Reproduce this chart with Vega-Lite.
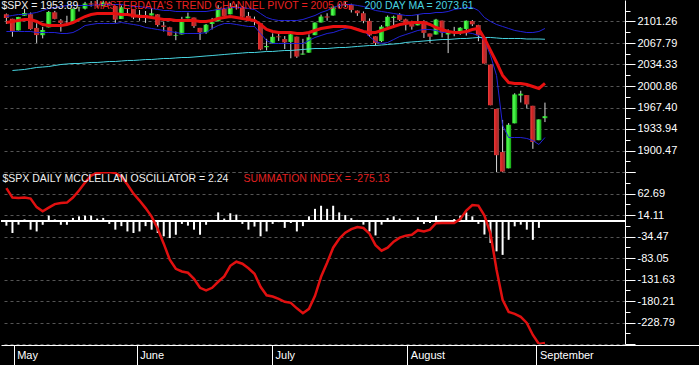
{
"$schema":"https://vega.github.io/schema/vega-lite/v6.json",
"background":"#000000",
"padding":0,
"spacing":0,
"bounds":"flush",
"datasets":{"days":[
{"i":-2,"date":"2015-04-29","o":2112.49,"h":2113.65,"l":2097.41,"c":2106.85,"pivot":2099.7,"upper":2109.0,"lower":2085.7,"ma":null,"osc":-10,"summation":75.0},
{"i":-1,"date":"2015-04-30","o":2105.52,"h":2105.52,"l":2077.59,"c":2085.51,"pivot":2101.3,"upper":2110.6,"lower":2085.7,"ma":2025.0,"osc":-26.5,"summation":53.5},
{"i":0,"date":"2015-05-01","o":2087.38,"h":2108.41,"l":2087.38,"c":2108.29,"pivot":2102.8,"upper":2112.2,"lower":2085.7,"ma":2025.8,"osc":-7.7,"summation":52.8},
{"i":1,"date":"2015-05-04","o":2110.23,"h":2120.95,"l":2110.23,"c":2114.49,"pivot":2104.4,"upper":2112.2,"lower":2085.7,"ma":2026.6,"osc":4,"summation":53.5},
{"i":2,"date":"2015-05-05","o":2112.63,"h":2115.24,"l":2088.46,"c":2089.46,"pivot":2104.4,"upper":2113.7,"lower":2085.7,"ma":2028.1,"osc":-19,"summation":51.2},
{"i":3,"date":"2015-05-06","o":2091.26,"h":2098.42,"l":2067.93,"c":2080.15,"pivot":2101.3,"upper":2115.3,"lower":2084.1,"ma":2029.7,"osc":-23,"summation":31.9},
{"i":4,"date":"2015-05-07","o":2079.96,"h":2092.90,"l":2074.99,"c":2088.00,"pivot":2096.6,"upper":2118.4,"lower":2084.1,"ma":2030.4,"osc":-8,"summation":22.4},
{"i":5,"date":"2015-05-08","o":2092.13,"h":2117.66,"l":2092.13,"c":2116.10,"pivot":2095.0,"upper":2121.5,"lower":2084.1,"ma":2031.2,"osc":12.7,"summation":30.8},
{"i":6,"date":"2015-05-11","o":2115.56,"h":2117.69,"l":2104.58,"c":2105.33,"pivot":2095.0,"upper":2123.1,"lower":2084.1,"ma":2032.8,"osc":4,"summation":38.7},
{"i":7,"date":"2015-05-12","o":2102.87,"h":2105.06,"l":2085.57,"c":2099.12,"pivot":2095.0,"upper":2124.6,"lower":2082.6,"ma":2034.3,"osc":-8,"summation":41.4},
{"i":8,"date":"2015-05-13","o":2099.62,"h":2110.19,"l":2096.04,"c":2098.48,"pivot":2096.6,"upper":2126.2,"lower":2082.6,"ma":2035.1,"osc":-8,"summation":42.1},
{"i":9,"date":"2015-05-14","o":2100.43,"h":2121.45,"l":2100.43,"c":2121.10,"pivot":2099.7,"upper":2126.2,"lower":2084.1,"ma":2035.9,"osc":7.5,"summation":53.5},
{"i":10,"date":"2015-05-15","o":2122.07,"h":2123.89,"l":2116.81,"c":2122.73,"pivot":2104.4,"upper":2126.2,"lower":2088.8,"ma":2035.9,"osc":11,"summation":69.3},
{"i":11,"date":"2015-05-18","o":2121.30,"h":2131.78,"l":2120.01,"c":2129.20,"pivot":2109.0,"upper":2126.2,"lower":2095.0,"ma":2036.7,"osc":12.7,"summation":87.4},
{"i":12,"date":"2015-05-19","o":2129.45,"h":2133.02,"l":2124.50,"c":2127.83,"pivot":2112.2,"upper":2126.2,"lower":2096.6,"ma":2037.5,"osc":12.7,"summation":103.3},
{"i":13,"date":"2015-05-20","o":2127.79,"h":2134.72,"l":2122.59,"c":2125.85,"pivot":2113.7,"upper":2127.7,"lower":2098.1,"ma":2037.5,"osc":6,"summation":108.9},
{"i":14,"date":"2015-05-21","o":2125.55,"h":2133.63,"l":2124.47,"c":2130.82,"pivot":2113.7,"upper":2127.7,"lower":2098.1,"ma":2038.2,"osc":7.5,"summation":110.8},
{"i":15,"date":"2015-05-22","o":2130.36,"h":2132.15,"l":2126.06,"c":2126.06,"pivot":2113.7,"upper":2127.7,"lower":2098.1,"ma":2039.0,"osc":-6,"summation":111.27},
{"i":16,"date":"2015-05-26","o":2125.34,"h":2125.34,"l":2099.18,"c":2104.20,"pivot":2113.7,"upper":2127.7,"lower":2098.1,"ma":2039.0,"osc":-19,"summation":108.9},
{"i":17,"date":"2015-05-27","o":2105.13,"h":2126.22,"l":2105.13,"c":2123.48,"pivot":2112.2,"upper":2127.7,"lower":2099.7,"ma":2039.8,"osc":-11,"summation":101.0},
{"i":18,"date":"2015-05-28","o":2122.27,"h":2122.27,"l":2112.86,"c":2120.79,"pivot":2112.2,"upper":2126.2,"lower":2098.1,"ma":2040.6,"osc":-23,"summation":82.9},
{"i":19,"date":"2015-05-29","o":2120.66,"h":2120.66,"l":2104.89,"c":2107.39,"pivot":2110.6,"upper":2124.6,"lower":2096.6,"ma":2040.6,"osc":-26.5,"summation":62.5},
{"i":20,"date":"2015-06-01","o":2108.64,"h":2119.15,"l":2102.54,"c":2111.73,"pivot":2109.0,"upper":2124.6,"lower":2095.0,"ma":2041.3,"osc":-23,"summation":46.7},
{"i":21,"date":"2015-06-02","o":2110.41,"h":2117.59,"l":2099.14,"c":2109.60,"pivot":2109.0,"upper":2123.1,"lower":2091.9,"ma":2042.1,"osc":-11,"summation":29.7},
{"i":22,"date":"2015-06-03","o":2110.64,"h":2121.92,"l":2110.64,"c":2114.07,"pivot":2107.5,"upper":2121.5,"lower":2090.4,"ma":2042.1,"osc":-19,"summation":10.4},
{"i":23,"date":"2015-06-04","o":2112.35,"h":2112.89,"l":2093.23,"c":2095.84,"pivot":2105.9,"upper":2120.0,"lower":2088.8,"ma":2042.9,"osc":-26.5,"summation":-16.8},
{"i":24,"date":"2015-06-05","o":2095.09,"h":2100.99,"l":2085.67,"c":2092.83,"pivot":2104.4,"upper":2118.4,"lower":2087.3,"ma":2043.7,"osc":-34,"summation":-50.7},
{"i":25,"date":"2015-06-08","o":2092.34,"h":2093.01,"l":2079.11,"c":2079.28,"pivot":2104.4,"upper":2118.4,"lower":2085.7,"ma":2043.7,"osc":-38,"summation":-87.0},
{"i":26,"date":"2015-06-09","o":2079.07,"h":2085.62,"l":2072.14,"c":2080.15,"pivot":2102.8,"upper":2116.8,"lower":2084.1,"ma":2044.5,"osc":-30.5,"summation":-107.4},
{"i":27,"date":"2015-06-10","o":2081.12,"h":2108.50,"l":2081.12,"c":2105.20,"pivot":2102.8,"upper":2116.8,"lower":2082.6,"ma":2045.2,"osc":-6,"summation":-113.5},
{"i":28,"date":"2015-06-11","o":2106.24,"h":2115.02,"l":2106.24,"c":2108.86,"pivot":2102.8,"upper":2116.8,"lower":2082.6,"ma":2045.2,"osc":-10,"summation":-116.4},
{"i":29,"date":"2015-06-12","o":2107.43,"h":2107.43,"l":2091.33,"c":2094.11,"pivot":2102.8,"upper":2116.8,"lower":2082.6,"ma":2046.0,"osc":-19,"summation":-130.0},
{"i":30,"date":"2015-06-15","o":2091.34,"h":2091.34,"l":2072.49,"c":2084.43,"pivot":2101.3,"upper":2116.8,"lower":2082.6,"ma":2046.8,"osc":-30.5,"summation":-150.4},
{"i":31,"date":"2015-06-16","o":2084.26,"h":2097.40,"l":2082.10,"c":2096.29,"pivot":2101.3,"upper":2116.8,"lower":2084.1,"ma":2047.6,"osc":-8,"summation":-156.1},
{"i":32,"date":"2015-06-17","o":2097.40,"h":2106.79,"l":2088.86,"c":2100.44,"pivot":2102.8,"upper":2118.4,"lower":2090.4,"ma":2048.3,"osc":3,"summation":-150.4},
{"i":33,"date":"2015-06-18","o":2101.58,"h":2126.65,"l":2101.58,"c":2121.24,"pivot":2105.9,"upper":2120.0,"lower":2095.0,"ma":2049.1,"osc":20,"summation":-136.8},
{"i":34,"date":"2015-06-19","o":2121.06,"h":2121.64,"l":2109.45,"c":2109.99,"pivot":2107.5,"upper":2121.5,"lower":2098.1,"ma":2049.9,"osc":6,"summation":-124.8},
{"i":35,"date":"2015-06-22","o":2112.50,"h":2129.87,"l":2112.50,"c":2122.85,"pivot":2109.0,"upper":2123.1,"lower":2098.1,"ma":2050.7,"osc":18,"summation":-100.6},
{"i":36,"date":"2015-06-23","o":2123.16,"h":2128.03,"l":2119.89,"c":2124.20,"pivot":2107.5,"upper":2123.1,"lower":2096.6,"ma":2051.5,"osc":15,"summation":-91.5},
{"i":37,"date":"2015-06-24","o":2123.65,"h":2125.10,"l":2108.58,"c":2108.58,"pivot":2105.9,"upper":2123.1,"lower":2095.0,"ma":2052.2,"osc":-6,"summation":-96.0},
{"i":38,"date":"2015-06-25","o":2109.96,"h":2116.04,"l":2101.78,"c":2102.31,"pivot":2104.4,"upper":2121.5,"lower":2093.5,"ma":2053.0,"osc":-19,"summation":-106.2},
{"i":39,"date":"2015-06-26","o":2102.62,"h":2108.92,"l":2095.38,"c":2101.49,"pivot":2102.8,"upper":2120.0,"lower":2093.5,"ma":2053.0,"osc":-12,"summation":-118.7},
{"i":40,"date":"2015-06-29","o":2098.63,"h":2098.63,"l":2056.64,"c":2057.64,"pivot":2096.6,"upper":2113.7,"lower":2082.6,"ma":2053.8,"osc":-34,"summation":-148.1},
{"i":41,"date":"2015-06-30","o":2061.19,"h":2074.28,"l":2056.32,"c":2063.11,"pivot":2088.8,"upper":2107.5,"lower":2071.7,"ma":2054.6,"osc":-23,"summation":-167.4},
{"i":42,"date":"2015-07-01","o":2067.00,"h":2082.78,"l":2067.00,"c":2077.42,"pivot":2085.7,"upper":2104.4,"lower":2067.0,"ma":2054.6,"osc":-6,"summation":-170.1},
{"i":43,"date":"2015-07-02","o":2078.03,"h":2085.06,"l":2071.02,"c":2076.78,"pivot":2084.1,"upper":2102.8,"lower":2067.0,"ma":2055.4,"osc":-2,"summation":-175.3},
{"i":44,"date":"2015-07-06","o":2073.95,"h":2078.61,"l":2058.40,"c":2068.76,"pivot":2084.1,"upper":2102.8,"lower":2067.0,"ma":2056.1,"osc":-15,"summation":-182.1},
{"i":45,"date":"2015-07-07","o":2069.52,"h":2083.74,"l":2044.02,"c":2081.34,"pivot":2084.1,"upper":2102.8,"lower":2067.0,"ma":2056.1,"osc":-4,"summation":-184.4},
{"i":46,"date":"2015-07-08","o":2077.66,"h":2077.66,"l":2044.66,"c":2046.68,"pivot":2082.6,"upper":2102.8,"lower":2067.0,"ma":2056.9,"osc":-23,"summation":-196.8},
{"i":47,"date":"2015-07-09","o":2049.73,"h":2074.28,"l":2049.73,"c":2051.31,"pivot":2082.6,"upper":2104.4,"lower":2067.0,"ma":2057.7,"osc":-11,"summation":-207.7},
{"i":48,"date":"2015-07-10","o":2052.74,"h":2081.31,"l":2052.74,"c":2076.62,"pivot":2084.1,"upper":2107.5,"lower":2071.7,"ma":2058.5,"osc":11,"summation":-198.0},
{"i":49,"date":"2015-07-13","o":2080.03,"h":2099.88,"l":2080.03,"c":2099.60,"pivot":2087.3,"upper":2110.6,"lower":2076.4,"ma":2059.2,"osc":28,"summation":-168.5},
{"i":50,"date":"2015-07-14","o":2099.72,"h":2111.98,"l":2099.72,"c":2108.95,"pivot":2090.4,"upper":2115.3,"lower":2079.5,"ma":2059.2,"osc":35,"summation":-125.5},
{"i":51,"date":"2015-07-15","o":2109.21,"h":2114.14,"l":2102.49,"c":2107.40,"pivot":2091.9,"upper":2118.4,"lower":2082.6,"ma":2059.2,"osc":28,"summation":-93.8},
{"i":52,"date":"2015-07-16","o":2110.55,"h":2124.42,"l":2110.55,"c":2124.29,"pivot":2093.5,"upper":2123.1,"lower":2084.1,"ma":2060.0,"osc":35,"summation":-59.8},
{"i":53,"date":"2015-07-17","o":2126.80,"h":2128.91,"l":2122.01,"c":2126.64,"pivot":2093.5,"upper":2126.2,"lower":2087.3,"ma":2060.8,"osc":20,"summation":-39.4},
{"i":54,"date":"2015-07-20","o":2126.85,"h":2132.82,"l":2123.66,"c":2128.28,"pivot":2093.5,"upper":2127.7,"lower":2090.4,"ma":2060.8,"osc":14,"summation":-25.8},
{"i":55,"date":"2015-07-21","o":2127.19,"h":2128.88,"l":2115.25,"c":2119.21,"pivot":2091.9,"upper":2127.7,"lower":2091.9,"ma":2061.6,"osc":7,"summation":-17.9},
{"i":56,"date":"2015-07-22","o":2118.21,"h":2118.51,"l":2110.00,"c":2114.15,"pivot":2088.8,"upper":2126.2,"lower":2090.4,"ma":2062.4,"osc":3,"summation":-12.9},
{"i":57,"date":"2015-07-23","o":2114.16,"h":2116.87,"l":2098.63,"c":2102.15,"pivot":2085.7,"upper":2124.6,"lower":2087.3,"ma":2063.1,"osc":-7.7,"summation":-15.2},
{"i":58,"date":"2015-07-24","o":2102.24,"h":2106.01,"l":2077.09,"c":2079.65,"pivot":2084.1,"upper":2121.5,"lower":2077.9,"ma":2063.9,"osc":-23,"summation":-28.1},
{"i":59,"date":"2015-07-27","o":2078.19,"h":2078.19,"l":2063.52,"c":2067.64,"pivot":2084.1,"upper":2118.4,"lower":2070.1,"ma":2063.9,"osc":-32,"summation":-54.1},
{"i":60,"date":"2015-07-28","o":2070.75,"h":2095.60,"l":2069.09,"c":2093.25,"pivot":2087.3,"upper":2116.8,"lower":2067.0,"ma":2064.7,"osc":-7.7,"summation":-66.6},
{"i":61,"date":"2015-07-29","o":2093.52,"h":2110.60,"l":2093.52,"c":2108.57,"pivot":2090.4,"upper":2115.3,"lower":2068.6,"ma":2065.5,"osc":7.5,"summation":-59.8},
{"i":62,"date":"2015-07-30","o":2106.78,"h":2110.48,"l":2094.97,"c":2108.63,"pivot":2093.5,"upper":2113.7,"lower":2073.2,"ma":2066.2,"osc":11,"summation":-46.2},
{"i":63,"date":"2015-07-31","o":2111.60,"h":2114.24,"l":2102.07,"c":2103.84,"pivot":2096.6,"upper":2112.2,"lower":2077.9,"ma":2067.0,"osc":6,"summation":-37.1},
{"i":64,"date":"2015-08-03","o":2104.49,"h":2105.70,"l":2087.31,"c":2098.04,"pivot":2098.1,"upper":2110.6,"lower":2081.0,"ma":2068.6,"osc":2,"summation":-32.6},
{"i":65,"date":"2015-08-04","o":2097.68,"h":2102.51,"l":2088.60,"c":2093.32,"pivot":2099.7,"upper":2110.6,"lower":2084.1,"ma":2069.4,"osc":3,"summation":-30.4},
{"i":66,"date":"2015-08-05","o":2095.27,"h":2112.66,"l":2095.27,"c":2099.84,"pivot":2099.7,"upper":2112.2,"lower":2087.3,"ma":2070.1,"osc":9,"summation":-20.2},
{"i":67,"date":"2015-08-06","o":2100.75,"h":2103.32,"l":2075.53,"c":2083.56,"pivot":2099.7,"upper":2113.7,"lower":2088.8,"ma":2070.9,"osc":-6,"summation":-22.9},
{"i":68,"date":"2015-08-07","o":2082.61,"h":2082.61,"l":2067.91,"c":2077.57,"pivot":2096.6,"upper":2113.7,"lower":2088.8,"ma":2071.7,"osc":-4,"summation":-19.0},
{"i":69,"date":"2015-08-10","o":2080.98,"h":2105.35,"l":2080.98,"c":2104.18,"pivot":2091.9,"upper":2115.3,"lower":2087.3,"ma":2072.5,"osc":12.7,"summation":-4.3},
{"i":70,"date":"2015-08-11","o":2102.66,"h":2102.66,"l":2076.49,"c":2084.07,"pivot":2088.8,"upper":2115.3,"lower":2084.1,"ma":2073.2,"osc":3,"summation":-3.9},
{"i":71,"date":"2015-08-12","o":2081.10,"h":2089.06,"l":2052.09,"c":2086.05,"pivot":2085.7,"upper":2116.8,"lower":2084.1,"ma":2073.2,"osc":-2,"summation":-3.9},
{"i":72,"date":"2015-08-13","o":2086.19,"h":2092.93,"l":2078.26,"c":2083.39,"pivot":2084.1,"upper":2120.0,"lower":2084.1,"ma":2074.0,"osc":5,"summation":-3.9},
{"i":73,"date":"2015-08-14","o":2083.15,"h":2092.45,"l":2080.61,"c":2091.54,"pivot":2084.1,"upper":2121.5,"lower":2084.1,"ma":2074.8,"osc":12.7,"summation":4.8},
{"i":74,"date":"2015-08-17","o":2089.70,"h":2102.87,"l":2079.30,"c":2102.44,"pivot":2085.7,"upper":2123.1,"lower":2084.1,"ma":2074.8,"osc":20,"summation":24.0},
{"i":75,"date":"2015-08-18","o":2101.99,"h":2103.47,"l":2094.14,"c":2096.92,"pivot":2088.8,"upper":2123.1,"lower":2082.6,"ma":2075.6,"osc":11,"summation":36.5},
{"i":76,"date":"2015-08-19","o":2095.69,"h":2096.17,"l":2070.53,"c":2079.61,"pivot":2090.4,"upper":2118.4,"lower":2079.5,"ma":2076.4,"osc":-6,"summation":35.3},
{"i":77,"date":"2015-08-20","o":2076.61,"h":2076.61,"l":2035.73,"c":2035.73,"pivot":2074.8,"upper":2107.5,"lower":2071.7,"ma":2076.4,"osc":-30,"summation":12.7},
{"i":78,"date":"2015-08-21","o":2034.08,"h":2034.08,"l":1970.89,"c":1970.89,"pivot":2056.1,"upper":2101.3,"lower":2048.4,"ma":2076.4,"osc":-49,"summation":-28.1},
{"i":79,"date":"2015-08-24","o":1965.15,"h":1965.15,"l":1867.01,"c":1893.21,"pivot":2037.5,"upper":2096.6,"lower":2017.2,"ma":2075.6,"osc":-68,"summation":-109.6},
{"i":80,"date":"2015-08-25","o":1898.08,"h":1948.04,"l":1867.08,"c":1867.61,"pivot":2017.2,"upper":2093.5,"lower":1939.4,"ma":2074.8,"osc":-76,"summation":-177.6},
{"i":81,"date":"2015-08-26","o":1872.75,"h":1943.09,"l":1872.75,"c":1940.51,"pivot":2006.3,"upper":2090.4,"lower":1920.7,"ma":2074.8,"osc":-42,"summation":-204.8},
{"i":82,"date":"2015-08-27","o":1942.77,"h":1989.60,"l":1942.77,"c":1987.66,"pivot":2004.8,"upper":2087.3,"lower":1920.7,"ma":2074.8,"osc":-11.5,"summation":-209.3},
{"i":83,"date":"2015-08-28","o":1986.06,"h":1993.48,"l":1975.19,"c":1988.87,"pivot":2004.8,"upper":2085.7,"lower":1920.7,"ma":2074.8,"osc":-7.7,"summation":-216.1},
{"i":84,"date":"2015-08-31","o":1986.73,"h":1986.73,"l":1965.98,"c":1972.18,"pivot":2003.2,"upper":2084.1,"lower":1919.2,"ma":2074.0,"osc":-19,"summation":-229.7},
{"i":85,"date":"2015-09-01","o":1970.09,"h":1970.09,"l":1903.07,"c":1913.85,"pivot":2000.1,"upper":2084.1,"lower":1916.0,"ma":2074.0,"osc":-42,"summation":-256.9},
{"i":86,"date":"2015-09-02","o":1916.52,"h":1948.91,"l":1916.52,"c":1948.86,"pivot":1997.0,"upper":2085.7,"lower":1909.8,"ma":2074.0,"osc":-15,"summation":-277.37},
{"i":87,"date":"2015-09-03","o":1950.79,"h":1975.01,"l":1944.72,"c":1953.89,"pivot":2005.05,"upper":2090.4,"lower":1920.7,"ma":2073.61,"osc":2.24,"summation":-275.13}
]},
"data":{"name":"days"},
"vconcat":[
{
"width":624,"height":172,
"layer":[
{"mark":{"type":"rule","color":"#d8d8d8","strokeWidth":1,"clip":true},
 "encoding":{
  "x":{"field":"i","type":"quantitative","scale":{"domain":[-2.065,99.4],"nice":false,"zero":false},"axis":null},
  "y":{"field":"l","type":"quantitative","scale":{"domain":[1867.01,2134.72],"nice":false,"zero":false},
   "axis":{"orient":"right","title":null,
    "values":[1867.01,1883.74,1900.47,1917.2,1933.94,1950.67,1967.4,1984.13,2000.86,2017.6,2034.33,2051.06,2067.79,2084.52,2101.26,2117.99],
    "labelExpr":"indexof([1900.47,1933.94,1967.4,2000.86,2034.33,2067.79,2101.26], datum.value) >= 0 ? format(datum.value, '.2f') : ''",
    "labelColor":"#ffffff","labelFont":"Liberation Sans","labelFontSize":11,"labelPadding":2,"labelOverlap":false,
    "domainColor":"#ffffff","domainWidth":1,"tickColor":"#ffffff","tickWidth":1,"tickSize":10,
    "tickDash":{"condition":{"test":"indexof([1867.01,1900.47,1933.94,1967.4,2000.86,2034.33,2067.79,2101.26], datum.value) >= 0","value":[]},"value":[5,20]},
    "grid":true,"gridColor":"#555555","gridDash":[3,3],"gridWidth":1,
    "gridOpacity":{"condition":{"test":"indexof([1867.01,1900.47,1933.94,1967.4,2000.86,2034.33,2067.79,2101.26], datum.value) >= 0","value":1},"value":0}}},
  "y2":{"field":"h"}}},
{"transform":[{"filter":"datum.c >= datum.o"}],
 "mark":{"type":"bar","size":5,"clip":true,"fill":{"x1":0,"y1":0,"x2":1,"y2":0,"gradient":"linear","stops":[{"offset":0,"color":"#30d030"},{"offset":0.35,"color":"#50ff50"},{"offset":1,"color":"#10a010"}]}},
 "encoding":{
  "x":{"field":"i","type":"quantitative","scale":{"domain":[-2.065,99.4],"nice":false,"zero":false},"axis":null},
  "y":{"field":"o","type":"quantitative","scale":{"domain":[1867.01,2134.72],"nice":false,"zero":false},
   "axis":{"orient":"right","title":null,
    "values":[1867.01,1883.74,1900.47,1917.2,1933.94,1950.67,1967.4,1984.13,2000.86,2017.6,2034.33,2051.06,2067.79,2084.52,2101.26,2117.99],
    "labelExpr":"indexof([1900.47,1933.94,1967.4,2000.86,2034.33,2067.79,2101.26], datum.value) >= 0 ? format(datum.value, '.2f') : ''",
    "labelColor":"#ffffff","labelFont":"Liberation Sans","labelFontSize":11,"labelPadding":2,"labelOverlap":false,
    "domainColor":"#ffffff","domainWidth":1,"tickColor":"#ffffff","tickWidth":1,"tickSize":10,
    "tickDash":{"condition":{"test":"indexof([1867.01,1900.47,1933.94,1967.4,2000.86,2034.33,2067.79,2101.26], datum.value) >= 0","value":[]},"value":[5,20]},
    "grid":true,"gridColor":"#555555","gridDash":[3,3],"gridWidth":1,
    "gridOpacity":{"condition":{"test":"indexof([1867.01,1900.47,1933.94,1967.4,2000.86,2034.33,2067.79,2101.26], datum.value) >= 0","value":1},"value":0}}},
  "y2":{"field":"c"}}},
{"transform":[{"filter":"datum.c < datum.o"}],
 "mark":{"type":"bar","size":5,"clip":true,"fill":{"x1":0,"y1":0,"x2":1,"y2":0,"gradient":"linear","stops":[{"offset":0,"color":"#f04040"},{"offset":0.4,"color":"#d02020"},{"offset":1,"color":"#904040"}]}},
 "encoding":{
  "x":{"field":"i","type":"quantitative","scale":{"domain":[-2.065,99.4],"nice":false,"zero":false},"axis":null},
  "y":{"field":"o","type":"quantitative","scale":{"domain":[1867.01,2134.72],"nice":false,"zero":false},
   "axis":{"orient":"right","title":null,
    "values":[1867.01,1883.74,1900.47,1917.2,1933.94,1950.67,1967.4,1984.13,2000.86,2017.6,2034.33,2051.06,2067.79,2084.52,2101.26,2117.99],
    "labelExpr":"indexof([1900.47,1933.94,1967.4,2000.86,2034.33,2067.79,2101.26], datum.value) >= 0 ? format(datum.value, '.2f') : ''",
    "labelColor":"#ffffff","labelFont":"Liberation Sans","labelFontSize":11,"labelPadding":2,"labelOverlap":false,
    "domainColor":"#ffffff","domainWidth":1,"tickColor":"#ffffff","tickWidth":1,"tickSize":10,
    "tickDash":{"condition":{"test":"indexof([1867.01,1900.47,1933.94,1967.4,2000.86,2034.33,2067.79,2101.26], datum.value) >= 0","value":[]},"value":[5,20]},
    "grid":true,"gridColor":"#555555","gridDash":[3,3],"gridWidth":1,
    "gridOpacity":{"condition":{"test":"indexof([1867.01,1900.47,1933.94,1967.4,2000.86,2034.33,2067.79,2101.26], datum.value) >= 0","value":1},"value":0}}},
  "y2":{"field":"c"}}},
{"mark":{"type":"line","color":"#2222d8","strokeWidth":1,"clip":true},
 "encoding":{
  "x":{"field":"i","type":"quantitative","scale":{"domain":[-2.065,99.4],"nice":false,"zero":false},"axis":null},
  "y":{"field":"upper","type":"quantitative","scale":{"domain":[1867.01,2134.72],"nice":false,"zero":false},
   "axis":{"orient":"right","title":null,
    "values":[1867.01,1883.74,1900.47,1917.2,1933.94,1950.67,1967.4,1984.13,2000.86,2017.6,2034.33,2051.06,2067.79,2084.52,2101.26,2117.99],
    "labelExpr":"indexof([1900.47,1933.94,1967.4,2000.86,2034.33,2067.79,2101.26], datum.value) >= 0 ? format(datum.value, '.2f') : ''",
    "labelColor":"#ffffff","labelFont":"Liberation Sans","labelFontSize":11,"labelPadding":2,"labelOverlap":false,
    "domainColor":"#ffffff","domainWidth":1,"tickColor":"#ffffff","tickWidth":1,"tickSize":10,
    "tickDash":{"condition":{"test":"indexof([1867.01,1900.47,1933.94,1967.4,2000.86,2034.33,2067.79,2101.26], datum.value) >= 0","value":[]},"value":[5,20]},
    "grid":true,"gridColor":"#555555","gridDash":[3,3],"gridWidth":1,
    "gridOpacity":{"condition":{"test":"indexof([1867.01,1900.47,1933.94,1967.4,2000.86,2034.33,2067.79,2101.26], datum.value) >= 0","value":1},"value":0}}}}},
{"mark":{"type":"line","color":"#2222d8","strokeWidth":1,"clip":true},
 "encoding":{
  "x":{"field":"i","type":"quantitative","scale":{"domain":[-2.065,99.4],"nice":false,"zero":false},"axis":null},
  "y":{"field":"lower","type":"quantitative","scale":{"domain":[1867.01,2134.72],"nice":false,"zero":false},
   "axis":{"orient":"right","title":null,
    "values":[1867.01,1883.74,1900.47,1917.2,1933.94,1950.67,1967.4,1984.13,2000.86,2017.6,2034.33,2051.06,2067.79,2084.52,2101.26,2117.99],
    "labelExpr":"indexof([1900.47,1933.94,1967.4,2000.86,2034.33,2067.79,2101.26], datum.value) >= 0 ? format(datum.value, '.2f') : ''",
    "labelColor":"#ffffff","labelFont":"Liberation Sans","labelFontSize":11,"labelPadding":2,"labelOverlap":false,
    "domainColor":"#ffffff","domainWidth":1,"tickColor":"#ffffff","tickWidth":1,"tickSize":10,
    "tickDash":{"condition":{"test":"indexof([1867.01,1900.47,1933.94,1967.4,2000.86,2034.33,2067.79,2101.26], datum.value) >= 0","value":[]},"value":[5,20]},
    "grid":true,"gridColor":"#555555","gridDash":[3,3],"gridWidth":1,
    "gridOpacity":{"condition":{"test":"indexof([1867.01,1900.47,1933.94,1967.4,2000.86,2034.33,2067.79,2101.26], datum.value) >= 0","value":1},"value":0}}}}},
{"mark":{"type":"line","strokeWidth":1,"clip":true},
 "encoding":{
  "x":{"field":"i","type":"quantitative","scale":{"domain":[-2.065,99.4],"nice":false,"zero":false},"axis":null},
  "y":{"field":"ma","type":"quantitative","scale":{"domain":[1867.01,2134.72],"nice":false,"zero":false},
   "axis":{"orient":"right","title":null,
    "values":[1867.01,1883.74,1900.47,1917.2,1933.94,1950.67,1967.4,1984.13,2000.86,2017.6,2034.33,2051.06,2067.79,2084.52,2101.26,2117.99],
    "labelExpr":"indexof([1900.47,1933.94,1967.4,2000.86,2034.33,2067.79,2101.26], datum.value) >= 0 ? format(datum.value, '.2f') : ''",
    "labelColor":"#ffffff","labelFont":"Liberation Sans","labelFontSize":11,"labelPadding":2,"labelOverlap":false,
    "domainColor":"#ffffff","domainWidth":1,"tickColor":"#ffffff","tickWidth":1,"tickSize":10,
    "tickDash":{"condition":{"test":"indexof([1867.01,1900.47,1933.94,1967.4,2000.86,2034.33,2067.79,2101.26], datum.value) >= 0","value":[]},"value":[5,20]},
    "grid":true,"gridColor":"#555555","gridDash":[3,3],"gridWidth":1,
    "gridOpacity":{"condition":{"test":"indexof([1867.01,1900.47,1933.94,1967.4,2000.86,2034.33,2067.79,2101.26], datum.value) >= 0","value":1},"value":0}}},
  "color":{"datum":"200 DAY MA = 2073.61","type":"nominal",
   "scale":{"domain":["$SPX = 1953.89","MASTERDATA'S TREND CHANNEL PIVOT = 2005.05","200 DAY MA = 2073.61"],"range":["#ffffff","#e81010","#48d4e0"]},
   "legend":{"orient":"top-left","direction":"horizontal","offset":1,"padding":0,"title":null,"symbolSize":0,"symbolStrokeWidth":0,"symbolOpacity":0,"labelOffset":-11,"columnPadding":14,"labelFont":"Liberation Sans","labelFontSize":10.5,"labelLimit":0,
    "encode":{"labels":{"update":{"fill":{"signal":"indexof(datum.label, 'MASTERDATA') >= 0 ? '#e82020' : (indexof(datum.label, '200 DAY') >= 0 ? '#48d4e0' : '#f0f0f0')"}}}}}}}},
{"mark":{"type":"line","strokeWidth":3,"clip":true},
 "encoding":{
  "x":{"field":"i","type":"quantitative","scale":{"domain":[-2.065,99.4],"nice":false,"zero":false},"axis":null},
  "y":{"field":"pivot","type":"quantitative","scale":{"domain":[1867.01,2134.72],"nice":false,"zero":false},
   "axis":{"orient":"right","title":null,
    "values":[1867.01,1883.74,1900.47,1917.2,1933.94,1950.67,1967.4,1984.13,2000.86,2017.6,2034.33,2051.06,2067.79,2084.52,2101.26,2117.99],
    "labelExpr":"indexof([1900.47,1933.94,1967.4,2000.86,2034.33,2067.79,2101.26], datum.value) >= 0 ? format(datum.value, '.2f') : ''",
    "labelColor":"#ffffff","labelFont":"Liberation Sans","labelFontSize":11,"labelPadding":2,"labelOverlap":false,
    "domainColor":"#ffffff","domainWidth":1,"tickColor":"#ffffff","tickWidth":1,"tickSize":10,
    "tickDash":{"condition":{"test":"indexof([1867.01,1900.47,1933.94,1967.4,2000.86,2034.33,2067.79,2101.26], datum.value) >= 0","value":[]},"value":[5,20]},
    "grid":true,"gridColor":"#555555","gridDash":[3,3],"gridWidth":1,
    "gridOpacity":{"condition":{"test":"indexof([1867.01,1900.47,1933.94,1967.4,2000.86,2034.33,2067.79,2101.26], datum.value) >= 0","value":1},"value":0}}},
  "color":{"datum":"MASTERDATA'S TREND CHANNEL PIVOT = 2005.05","type":"nominal",
   "scale":{"domain":["$SPX = 1953.89","MASTERDATA'S TREND CHANNEL PIVOT = 2005.05","200 DAY MA = 2073.61"],"range":["#ffffff","#e81010","#48d4e0"]},
   "legend":{"orient":"top-left","direction":"horizontal","offset":1,"padding":0,"title":null,"symbolSize":0,"symbolStrokeWidth":0,"symbolOpacity":0,"labelOffset":-11,"columnPadding":14,"labelFont":"Liberation Sans","labelFontSize":10.5,"labelLimit":0,
    "encode":{"labels":{"update":{"fill":{"signal":"indexof(datum.label, 'MASTERDATA') >= 0 ? '#e82020' : (indexof(datum.label, '200 DAY') >= 0 ? '#48d4e0' : '#f0f0f0')"}}}}}}}}
]
},
{
"width":624,"height":172,
"layer":[
{"mark":{"type":"rule","color":"#ffffff","strokeWidth":1.5},
 "encoding":{"y":{"datum":0,"type":"quantitative","scale":{"domain":[-277.37,111.27],"nice":false,"zero":false},
   "axis":{"orient":"right","title":null,
    "values":[-277.37,-253.08,-228.79,-204.5,-180.21,-155.92,-131.63,-107.34,-83.05,-58.76,-34.47,-10.18,14.11,38.4,62.69,86.98,111.27],
    "labelExpr":"indexof([-228.79,-180.21,-131.63,-83.05,-34.47,14.11,62.69], datum.value) >= 0 ? '' + datum.value : ''",
    "labelColor":"#ffffff","labelFont":"Liberation Sans","labelFontSize":11,"labelPadding":2,"labelOverlap":false,
    "domainColor":"#ffffff","domainWidth":1,"tickColor":"#ffffff","tickWidth":1,"tickSize":10,
    "tickDash":{"condition":{"test":"indexof([-277.37,-228.79,-180.21,-131.63,-83.05,-34.47,14.11,62.69,111.27], datum.value) >= 0","value":[]},"value":[5,20]},
    "grid":true,"gridColor":"#555555","gridDash":[3,3],"gridWidth":1,
    "gridOpacity":{"condition":{"test":"indexof([-277.37,-228.79,-180.21,-131.63,-83.05,-34.47,14.11,62.69,111.27], datum.value) >= 0","value":1},"value":0}}}}},
{"mark":{"type":"bar","size":2,"clip":true},
 "encoding":{
  "x":{"field":"i","type":"quantitative","scale":{"domain":[-2.065,99.4],"nice":false,"zero":false},"axis":null},
  "y":{"field":"osc","type":"quantitative","scale":{"domain":[-277.37,111.27],"nice":false,"zero":false},
   "axis":{"orient":"right","title":null,
    "values":[-277.37,-253.08,-228.79,-204.5,-180.21,-155.92,-131.63,-107.34,-83.05,-58.76,-34.47,-10.18,14.11,38.4,62.69,86.98,111.27],
    "labelExpr":"indexof([-228.79,-180.21,-131.63,-83.05,-34.47,14.11,62.69], datum.value) >= 0 ? '' + datum.value : ''",
    "labelColor":"#ffffff","labelFont":"Liberation Sans","labelFontSize":11,"labelPadding":2,"labelOverlap":false,
    "domainColor":"#ffffff","domainWidth":1,"tickColor":"#ffffff","tickWidth":1,"tickSize":10,
    "tickDash":{"condition":{"test":"indexof([-277.37,-228.79,-180.21,-131.63,-83.05,-34.47,14.11,62.69,111.27], datum.value) >= 0","value":[]},"value":[5,20]},
    "grid":true,"gridColor":"#555555","gridDash":[3,3],"gridWidth":1,
    "gridOpacity":{"condition":{"test":"indexof([-277.37,-228.79,-180.21,-131.63,-83.05,-34.47,14.11,62.69,111.27], datum.value) >= 0","value":1},"value":0}}},
  "y2":{"datum":0},
  "color":{"datum":"$SPX DAILY MCCLELLAN OSCILLATOR = 2.24","type":"nominal",
   "scale":{"domain":["$SPX DAILY MCCLELLAN OSCILLATOR = 2.24","SUMMATION INDEX = -275.13"],"range":["#ffffff","#e01010"]},
   "legend":{"orient":"top-left","direction":"horizontal","offset":2,"padding":0,"title":null,"symbolSize":0,"symbolStrokeWidth":0,"symbolOpacity":0,"labelOffset":-11,"columnPadding":14,"labelFont":"Liberation Sans","labelFontSize":10.5,"labelLimit":0,
    "encode":{"labels":{"update":{"fill":{"signal":"indexof(datum.label, 'SUMMATION') >= 0 ? '#e02020' : '#f0f0f0'"}}}}}}}},
{"mark":{"type":"line","strokeWidth":2.5,"clip":true},
 "encoding":{
  "x":{"field":"i","type":"quantitative","scale":{"domain":[-2.065,99.4],"nice":false,"zero":false},"axis":null},
  "y":{"field":"summation","type":"quantitative","scale":{"domain":[-277.37,111.27],"nice":false,"zero":false},
   "axis":{"orient":"right","title":null,
    "values":[-277.37,-253.08,-228.79,-204.5,-180.21,-155.92,-131.63,-107.34,-83.05,-58.76,-34.47,-10.18,14.11,38.4,62.69,86.98,111.27],
    "labelExpr":"indexof([-228.79,-180.21,-131.63,-83.05,-34.47,14.11,62.69], datum.value) >= 0 ? '' + datum.value : ''",
    "labelColor":"#ffffff","labelFont":"Liberation Sans","labelFontSize":11,"labelPadding":2,"labelOverlap":false,
    "domainColor":"#ffffff","domainWidth":1,"tickColor":"#ffffff","tickWidth":1,"tickSize":10,
    "tickDash":{"condition":{"test":"indexof([-277.37,-228.79,-180.21,-131.63,-83.05,-34.47,14.11,62.69,111.27], datum.value) >= 0","value":[]},"value":[5,20]},
    "grid":true,"gridColor":"#555555","gridDash":[3,3],"gridWidth":1,
    "gridOpacity":{"condition":{"test":"indexof([-277.37,-228.79,-180.21,-131.63,-83.05,-34.47,14.11,62.69,111.27], datum.value) >= 0","value":1},"value":0}}},
  "color":{"datum":"SUMMATION INDEX = -275.13","type":"nominal",
   "scale":{"domain":["$SPX DAILY MCCLELLAN OSCILLATOR = 2.24","SUMMATION INDEX = -275.13"],"range":["#ffffff","#e01010"]},
   "legend":{"orient":"top-left","direction":"horizontal","offset":2,"padding":0,"title":null,"symbolSize":0,"symbolStrokeWidth":0,"symbolOpacity":0,"labelOffset":-11,"columnPadding":14,"labelFont":"Liberation Sans","labelFontSize":10.5,"labelLimit":0,
    "encode":{"labels":{"update":{"fill":{"signal":"indexof(datum.label, 'SUMMATION') >= 0 ? '#e02020' : '#f0f0f0'"}}}}}}}}
]
},
{
"width":699,"height":1,
"mark":{"type":"point","opacity":0,"clip":true},
"encoding":{"x":{"field":"i","type":"quantitative","scale":{"domain":[-2.065,111.59],"nice":false,"zero":false},
 "axis":{"orient":"bottom","title":null,"values":[0,20,42,64,85],
  "labelExpr":"datum.value == 0 ? 'May' : datum.value == 20 ? 'June' : datum.value == 42 ? 'July' : datum.value == 64 ? 'August' : 'September'",
  "tickSize":20,"tickColor":"#ffffff","tickWidth":1,"domainColor":"#ffffff","domainWidth":1,"grid":false,
  "labelAlign":"left","labelBaseline":"top","labelPadding":-16,"labelOffset":3,"labelFlush":false,"labelOverlap":false,
  "labelColor":"#ffffff","labelFont":"Liberation Sans","labelFontSize":11}}}
}
],
"resolve":{"scale":{"x":"independent","y":"independent","color":"independent"},"legend":{"color":"independent"}},
"config":{"view":{"stroke":null}}
}
